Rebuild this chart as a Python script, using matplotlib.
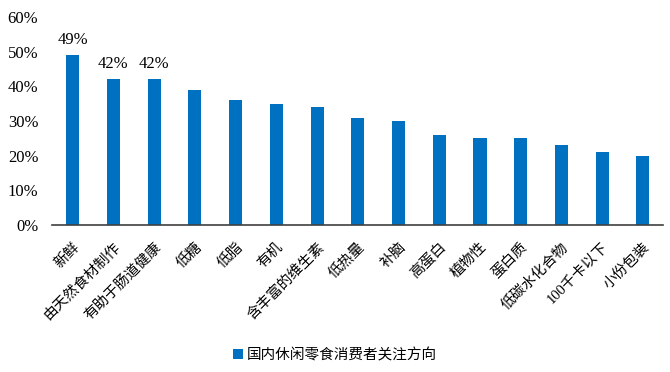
import matplotlib.pyplot as plt
from matplotlib.ticker import PercentFormatter

plt.rcParams['font.family'] = ['Liberation Serif', 'Noto Sans CJK SC']

categories = ['新鲜', '由天然食材制作', '有助于肠道健康', '低糖', '低脂', '有机',
              '含丰富的维生素', '低热量', '补脑', '高蛋白', '植物性', '蛋白质',
              '低碳水化合物', '100千卡以下', '小份包装']
values = [49, 42, 42, 39, 36, 35, 34, 31, 30, 26, 25, 25, 23, 21, 20]
labeled = [0, 1, 2]  # bars with value labels

fig = plt.figure(figsize=(6.7, 3.72), dpi=100)
ax = fig.add_axes([0.078, 0.395, 0.912, 0.559])

x = range(len(categories))
bars = ax.bar(x, [v / 100 for v in values], width=0.32, color='#0070C0',
              label='国内休闲零食消费者关注方向')
for i in labeled:
    ax.text(i, values[i] / 100 + 0.022, f'{values[i]}%', ha='center', va='bottom', fontsize=12)

ax.set_ylim(0, 0.6)
ax.set_xlim(-0.5, len(categories) - 0.5)
ax.yaxis.set_major_formatter(PercentFormatter(1.0, decimals=0))
ax.tick_params(axis='y', length=0, labelsize=12, pad=10)
ax.tick_params(axis='x', length=0, pad=11)
ax.set_xticks(list(x))
ax.set_xticklabels(categories, rotation=45, ha='right', rotation_mode='anchor', fontsize=10.5)
for s in ['top', 'right', 'left']:
    ax.spines[s].set_visible(False)
ax.spines['bottom'].set_color('#404040')
ax.spines['bottom'].set_linewidth(1.2)

fig.legend(loc='center', bbox_to_anchor=(0.5, 0.045), frameon=False, fontsize=10.5,
           handlelength=0.7, handleheight=0.7, handletextpad=0.3)

fig.savefig('out.png', dpi=100)
